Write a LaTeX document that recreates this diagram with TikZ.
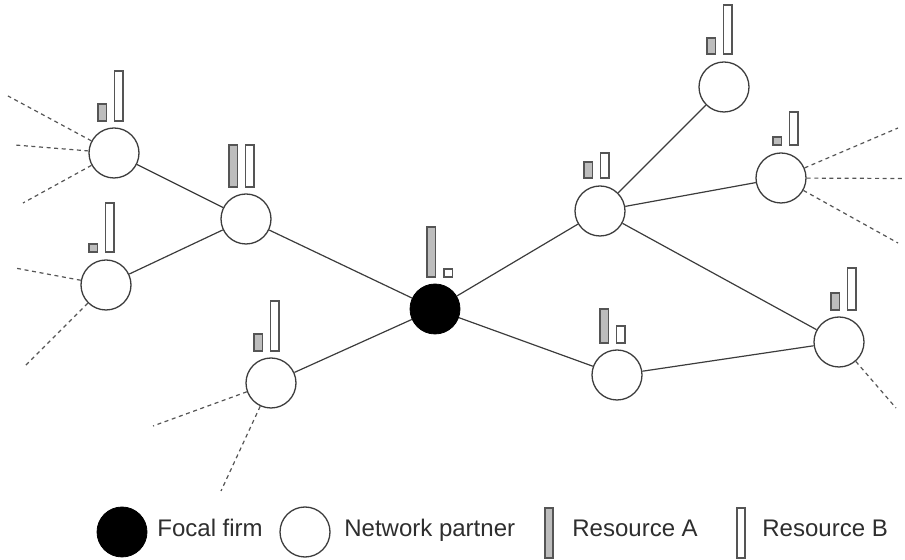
\documentclass[tikz,border=0pt]{standalone}
\usepackage{fontspec}
\setmainfont{Liberation Sans}
\definecolor{linec}{HTML}{3C3C3C}
\definecolor{dashc}{HTML}{555555}
\definecolor{barfill}{HTML}{BDBDBD}
\definecolor{barline}{HTML}{555555}
\definecolor{textc}{HTML}{2E2E2E}
\newcommand\resbars[4]{%
  \draw[resA] (#1,#2) rectangle ({#1+8.5},#3);
  \draw[resB] ({#1+16.5},#2) rectangle ({#1+25},#4);}
\begin{document}
\begin{tikzpicture}[x=0.5pt,y=-0.5pt,
  partner/.style={circle,draw=linec,line width=0.65pt,fill=white,minimum size=25pt,inner sep=0pt},
  focal/.style={circle,draw=black,fill=black,minimum size=25pt,inner sep=0pt},
  edge/.style={draw=linec,line width=0.6pt},
  dashedge/.style={draw=dashc,line width=0.6pt,dash pattern=on 2pt off 1.8pt},
  resA/.style={draw=barline,fill=barfill,line width=0.6pt},
  resB/.style={draw=barline,fill=white,line width=0.6pt},
  legtext/.style={anchor=base west,text=textc,font=\fontsize{12}{14}\selectfont,inner sep=0pt}]
\useasboundingbox (0,0) rectangle (905,560);

% nodes
\node[focal] (F0) at (435,309) {};
\node[partner] (A) at (114,153) {};
\node[partner] (B) at (246,219) {};
\node[partner] (C) at (106,285) {};
\node[partner] (D) at (271,383) {};
\node[partner] (E) at (600,211) {};
\node[partner] (Fa) at (724,87) {};
\node[partner] (G) at (781,178) {};
\node[partner] (H) at (617,375) {};
\node[partner] (I) at (839,342) {};

% free ends of dashed ties
\coordinate (a1) at (8,96);
\coordinate (a2) at (15,145);
\coordinate (a3) at (23,203);
\coordinate (c1) at (15,268);
\coordinate (c2) at (25,366);
\coordinate (d1) at (153,426);
\coordinate (d2) at (221,491);
\coordinate (g1) at (898,128);
\coordinate (g2) at (903,178.5);
\coordinate (g3) at (898,243);
\coordinate (i1) at (896,408);

% solid ties
\path[edge] (A) -- (B);
\path[edge] (C) -- (B);
\path[edge] (B) -- (F0);
\path[edge] (D) -- (F0);
\path[edge] (F0) -- (E);
\path[edge] (F0) -- (H);
\path[edge] (E) -- (Fa);
\path[edge] (E) -- (G);
\path[edge] (E) -- (I);
\path[edge] (H) -- (I);

% dashed ties
\path[dashedge] (A) -- (a1);
\path[dashedge] (A) -- (a2);
\path[dashedge] (A) -- (a3);
\path[dashedge] (C) -- (c1);
\path[dashedge] (C) -- (c2);
\path[dashedge] (D) -- (d1);
\path[dashedge] (D) -- (d2);
\path[dashedge] (G) -- (g1);
\path[dashedge] (G) -- (g2);
\path[dashedge] (G) -- (g3);
\path[dashedge] (I) -- (i1);

% resource bars: gray left x, bottom y, gray top y, white top y
\resbars{98}{121}{104}{71}
\resbars{229}{187}{145}{145}
\resbars{89}{252}{244}{203}
\resbars{254}{351}{334}{301}
\draw[resA] (427,277) rectangle (435.5,227);
\draw[resB] (444,277) rectangle (452.5,269);
\resbars{584}{178}{162}{153}
\resbars{707}{54}{38}{5}
\resbars{773}{145}{137}{112}
\resbars{600}{343}{309}{326}
\resbars{831}{310}{293}{268}

% legend
\node[focal] (LF) at (122,532) {};
\node[legtext] (LFt) at (157,537) {Focal firm};
\node[partner] (LP) at (305,532) {};
\node[legtext] (LPt) at (344,537) {Network partner};
\draw[resA] (545,508) rectangle (553,558);
\node[legtext] (LAt) at (572,537) {Resource A};
\draw[resB] (737,508) rectangle (745,558);
\node[legtext] (LBt) at (762,537) {Resource B};
\end{tikzpicture}
\end{document}
